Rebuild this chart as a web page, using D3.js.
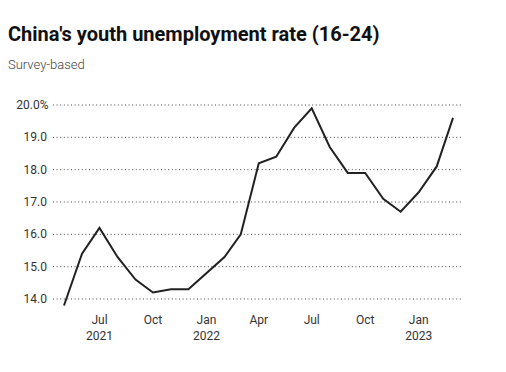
<!DOCTYPE html>
<html>
<head>
<meta charset="utf-8">
<script src="https://cdn.jsdelivr.net/npm/d3@7"></script>
<style>
    body{margin:0;background:#fff;}
    svg{display:block;font-family:Roboto,"Noto Sans",sans-serif;}
</style>
</head>
<body>
<svg id="chart" width="506" height="372"></svg>
<script>
"use strict";

// 月份（2022年1月无单独数据，国家统计局合并公布1-2月）
var months = ["2021-05","2021-06","2021-07","2021-08","2021-09","2021-10","2021-11","2021-12",
    "2022-02","2022-03","2022-04","2022-05","2022-06","2022-07","2022-08","2022-09","2022-10","2022-11","2022-12",
    "2023-01","2023-02","2023-03"];
// 16-24岁失业率 %
var rates = [13.8,15.4,16.2,15.3,14.6,14.2,14.3,14.3,
    15.3,16.0,18.2,18.4,19.3,19.9,18.7,17.9,17.9,17.1,16.7,
    17.3,18.1,19.6];
var yTicks = [14,15,16,17,18,19,20];
var xTicks = ["2021-07","2021-10","2022-01","2022-04","2022-07","2022-10","2023-01"];

var parse = d3.timeParse("%Y-%m");
var data = months.map(function(m,i){ return {date:parse(m), value:rates[i]}; });

var svg = d3.select("#chart");

//标题
svg.append("text")
    .attr("x",8).attr("y",41)
    .attr("font-size",20).attr("font-weight","bold")
    .attr("fill","#111")
    .text("China's youth unemployment rate (16-24)");

svg.append("text")
    .attr("x",8).attr("y",69)
    .attr("font-size",13).attr("font-weight",300)
    .attr("fill","#444")
    .text("Survey-based");

var x = d3.scaleTime()
    .domain([parse("2021-05"), parse("2023-03")])
    .range([64,453]);

var y = d3.scaleLinear()
    .domain([14,20])
    .range([299,105]);

//网格线与y轴标签
var gy = svg.append("g");
gy.selectAll("line").data(yTicks).enter().append("line")
    .attr("x1",53).attr("x2",463)
    .attr("y1",function(d){return y(d);})
    .attr("y2",function(d){return y(d);})
    .attr("stroke","#444")
    .attr("stroke-width",1)
    .attr("stroke-dasharray","1,2.6");

gy.selectAll("text").data(yTicks).enter().append("text")
    .attr("x",function(d){return d===20?48.5:47;})
    .attr("y",function(d){return y(d)+4;})
    .attr("text-anchor","end")
    .attr("font-size",12)
    .attr("fill","#333")
    .text(function(d){ return d.toFixed(1)+(d===20?"%":""); });

//x轴标签
var gx = svg.append("g");
xTicks.forEach(function(t){
    var dt = parse(t);
    var tx = x(dt);
    gx.append("text")
        .attr("x",tx).attr("y",324)
        .attr("text-anchor","middle")
        .attr("font-size",12)
        .attr("fill","#333")
        .text(d3.timeFormat("%b")(dt));
    if(t==="2021-07" || dt.getMonth()===0){
        gx.append("text")
            .attr("x",tx).attr("y",340)
            .attr("text-anchor","middle")
            .attr("font-size",12)
            .attr("fill","#333")
            .text(d3.timeFormat("%Y")(dt));
    }
});

//折线
var line = d3.line()
    .x(function(d){return x(d.date);})
    .y(function(d){return y(d.value);});

svg.append("path")
    .datum(data)
    .attr("d",line)
    .attr("fill","none")
    .attr("stroke","#222")
    .attr("stroke-width",2)
    .attr("stroke-linejoin","miter");
</script>
</body>
</html>
